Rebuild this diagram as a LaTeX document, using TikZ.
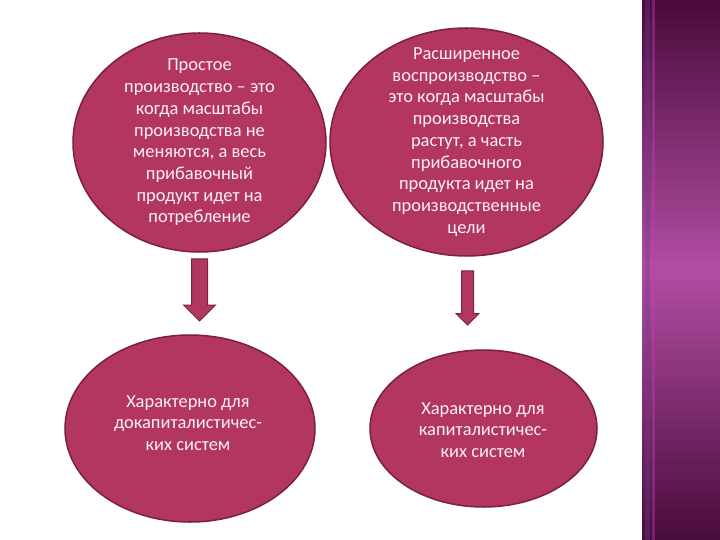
\documentclass[tikz,border=0pt]{standalone}
\usepackage{fontspec}
\setmainfont{Carlito}
\usetikzlibrary{shapes.geometric,shapes.arrows}
\definecolor{ovalfill}{HTML}{B2365E}
\definecolor{ovalline}{HTML}{7A1F45}
\definecolor{ovaltext}{HTML}{FCEFF5}
\definecolor{bandtop}{HTML}{4A0C3C}
\definecolor{bandmid}{HTML}{B24DA3}
\definecolor{bandblue}{HTML}{6A3C9A}

\begin{document}
\begin{tikzpicture}[x=1bp,y=-1bp,
  oval/.style={ellipse,draw=ovalline,line width=1.5bp,fill=ovalfill,inner sep=0pt},
  txt/.style={align=center,text=ovaltext,font=\fontsize{18.5}{21.8}\selectfont},
  down/.style={single arrow,draw=ovalline,line width=1bp,fill=ovalfill,rotate=-90}]
\useasboundingbox (0,0) rectangle (720,540);
%\draw [help lines,step=20] (0,0) grid (720,540);
\foreach \i in {0,...,53} {\pgfmathtruncatemacro\p{100-abs(\i*10+5-270)/2.7} \fill [bandmid!\p!bandtop] (642,\i*10) rectangle (720,\i*10+10.5);}
\fill [bandblue,opacity=0.35] (645,0) rectangle (650,540); \fill [bandmid!80!magenta,opacity=0.4] (652,0) rectangle (655,540);
\node [oval,minimum width=253bp,minimum height=219bp] (pr) at (199.5,142.5) {}; \node [txt] (prt) at (pr) {Простое\\производство – это\\когда масштабы\\производства не\\меняются, а весь\\прибавочный\\продукт идет на\\потребление};
\node [oval,minimum width=273bp,minimum height=228bp] (rs) at (466.5,142) {}; \node [txt] (rst) at (rs) {Расширенное\\воспроизводство –\\это когда масштабы\\производства\\растут, а часть\\прибавочного\\продукта идет на\\производственные\\цели};
\node [down,inner sep=7.5bp,minimum height=62bp,minimum width=31bp,single arrow head extend=8bp] (a1) at (199.5,286) {};
\node [down,inner sep=5.5bp,minimum height=54bp,minimum width=22bp,single arrow head extend=5.5bp] (a2) at (467.5,295) {};
\node [oval,minimum width=250bp,minimum height=187bp] (dk) at (190,428.5) {}; \node [txt] (dkt) at (188,423) {Характерно для\\докапиталистичес-\\ких систем};
\node [oval,minimum width=227bp,minimum height=157bp] (kp) at (483.5,428.5) {}; \node [txt] (kpt) at (483,430) {Характерно для\\капиталистичес-\\ких систем};
\end{tikzpicture}
\end{document}
